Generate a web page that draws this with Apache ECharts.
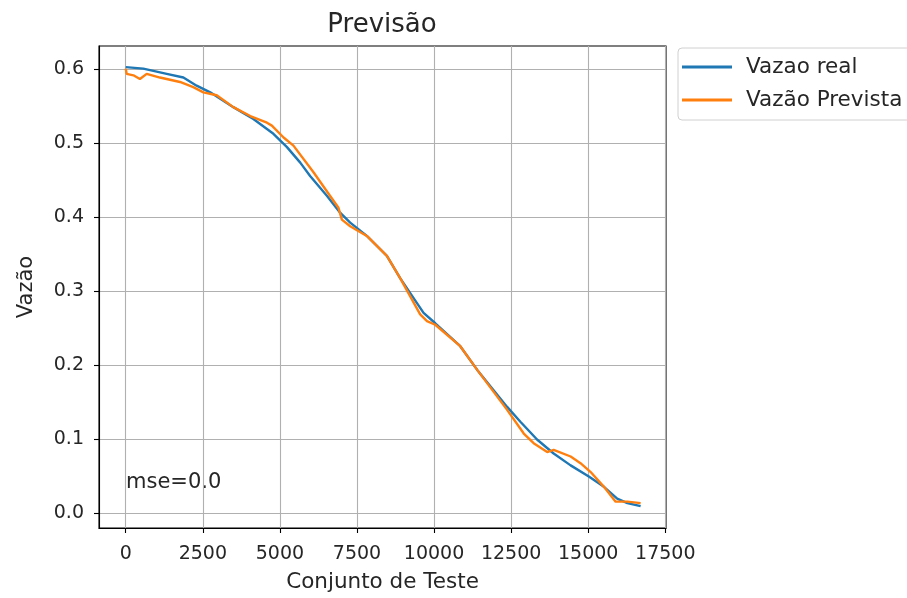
<!DOCTYPE html>
<html>
<head>
<meta charset="utf-8">
<script src="https://cdn.jsdelivr.net/npm/echarts@6/dist/echarts.min.js"></script>
<style>
  html, body { margin: 0; padding: 0; background: #fff; }
  #chart { width: 907px; height: 598px; }
</style>
</head>
<body>
<div id="chart"></div>
<script>
// ---- dados ----
var realX = [0, 570, 1330, 1870, 2300, 2740, 3490, 4140, 4790, 5230, 5660, 5980, 6530, 6960, 7280, 7820, 8470, 8900, 9660, 10040, 10850, 11400, 12370, 12800, 13340, 13880, 14430, 15020, 15510, 15940, 16270, 16700];
var realY = [0.603, 0.601, 0.594, 0.589, 0.578, 0.569, 0.549, 0.533, 0.513, 0.495, 0.474, 0.456, 0.429, 0.406, 0.393, 0.375, 0.348, 0.318, 0.271, 0.257, 0.226, 0.194, 0.144, 0.124, 0.100, 0.081, 0.065, 0.050, 0.036, 0.020, 0.014, 0.010];

var predX = [0, 30, 250, 460, 680, 1110, 1760, 2190, 2520, 2950, 3490, 4040, 4580, 4740, 5120, 5440, 6090, 6630, 6900, 7010, 7280, 7820, 8470, 8900, 9550, 9770, 10040, 10850, 11400, 12370, 12910, 13230, 13670, 13880, 14430, 14750, 15080, 15510, 15890, 16270, 16700];
var predY = [0.601, 0.594, 0.592, 0.587, 0.594, 0.589, 0.583, 0.576, 0.569, 0.565, 0.549, 0.537, 0.528, 0.524, 0.508, 0.497, 0.461, 0.429, 0.413, 0.397, 0.388, 0.375, 0.348, 0.318, 0.269, 0.260, 0.255, 0.226, 0.194, 0.140, 0.108, 0.095, 0.083, 0.086, 0.077, 0.068, 0.056, 0.036, 0.016, 0.016, 0.014];

var xTicks = [0, 2500, 5000, 7500, 10000, 12500, 15000, 17500];
var yTicks = [0.0, 0.1, 0.2, 0.3, 0.4, 0.5, 0.6];

function zip(xs, ys) {
    return xs.map(function(x, i) { return [x, ys[i]]; });
}

var font = 'DejaVu Sans';
var txt = '#262626';

var dom = document.getElementById('chart');
var myChart = echarts.init(dom);

var option = {
    animation: false,
    backgroundColor: '#fff',
    title: {
        text: 'Previsão',
        left: 382,
        top: 12,
        textAlign: 'center',
        padding: 0,
        textStyle: { fontFamily: font, fontSize: 26, fontWeight: 'normal', color: txt }
    },
    legend: {
        orient: 'vertical',
        left: 678,
        top: 48,
        icon: 'rect',
        itemWidth: 50,
        itemHeight: 3,
        itemGap: 11,
        padding: [8, 10, 9, 4],
        borderColor: '#d0d0d0',
        borderWidth: 1,
        borderRadius: 4,
        textStyle: { fontFamily: font, fontSize: 21.5, color: txt, padding: [0, 0, 0, 9] },
        data: ['Vazao real', 'Vazão Prevista']
    },
    grid: {
        left: 99,
        right: 241,
        top: 46,
        bottom: 70,
        show: true,
        borderColor: '#000',
        borderWidth: 1.1
    },
    xAxis: {
        type: 'value',
        min: -867,
        max: 17523,
        name: 'Conjunto de Teste',
        nameLocation: 'middle',
        nameGap: 43,
        nameTextStyle: { fontFamily: font, fontSize: 21.5, color: txt },
        axisLine: { show: true, onZero: false, lineStyle: { color: '#000', width: 1.1 } },
        axisTick: { show: true, length: 5, customValues: xTicks, lineStyle: { color: '#000', width: 1.1 } },
        axisLabel: {
            customValues: xTicks,
            margin: 17,
            fontFamily: font,
            fontSize: 19,
            color: txt,
            formatter: function(v) { return String(v); }
        },
        splitLine: { show: true, lineStyle: { color: '#b0b0b0', width: 1.1 } }
    },
    yAxis: {
        type: 'value',
        min: -0.0196,
        max: 0.6316,
        name: 'Vazão',
        nameLocation: 'middle',
        nameGap: 62,
        nameTextStyle: { fontFamily: font, fontSize: 21, color: txt },
        axisLine: { show: true, onZero: false, lineStyle: { color: '#000', width: 1.1 } },
        axisTick: { show: true, length: 5, customValues: yTicks, lineStyle: { color: '#000', width: 1.1 } },
        axisLabel: {
            customValues: yTicks,
            margin: 15,
            fontFamily: font,
            fontSize: 19,
            color: txt,
            formatter: function(v) { return v.toFixed(1); }
        },
        splitLine: { show: true, lineStyle: { color: '#b0b0b0', width: 1.1 } }
    },
    graphic: [{
        type: 'text',
        left: 126,
        top: 472,
        style: { text: 'mse=0.0', fontFamily: font, fontSize: 21, fill: txt }
    }],
    series: [{
        name: 'Vazao real',
        type: 'line',
        data: zip(realX, realY),
        showSymbol: false,
        color: '#1f77b4',
        lineStyle: { width: 2.4, color: '#1f77b4' }
    }, {
        name: 'Vazão Prevista',
        type: 'line',
        data: zip(predX, predY),
        showSymbol: false,
        color: '#ff7f0e',
        lineStyle: { width: 2.4, color: '#ff7f0e' }
    }]
};

if (option && typeof option === 'object') {
    myChart.setOption(option);
}

window.onresize = function() {
    myChart.resize();
};
</script>
</body>
</html>
